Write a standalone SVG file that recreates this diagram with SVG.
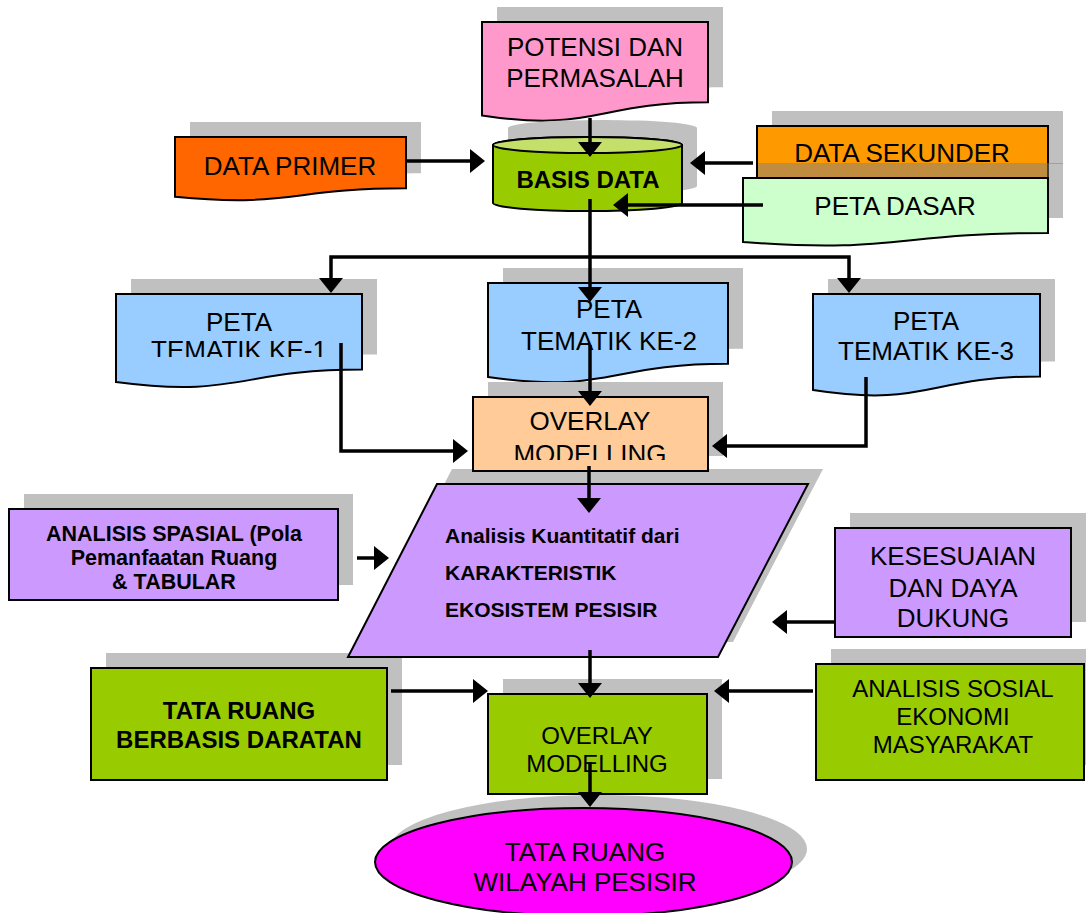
<svg xmlns="http://www.w3.org/2000/svg" width="1086" height="913" viewBox="0 0 1086 913">
<style>
.sh{fill:#C0C0C0}
.nd{stroke:#000;stroke-width:2}
.t{font-family:"Liberation Sans",Arial,Helvetica,sans-serif;font-size:26px;fill:#000;text-anchor:middle}
.b{font-weight:bold}
.c{fill:none;stroke:#000;stroke-width:3.5}
</style>
<defs>
<marker id="ah" viewBox="0 0 15 24" markerWidth="15" markerHeight="24" refX="9" refY="12" orient="auto" markerUnits="userSpaceOnUse">
<path d="M0,0 L15,12 L0,24 Z" fill="#000"/>
</marker>
<clipPath id="clip1"><rect x="100" y="290" width="280" height="67"/></clipPath>
<clipPath id="clip2"><rect x="473" y="397" width="235" height="63"/></clipPath>
</defs>

<g id="potensi">
<path class="sh" transform="translate(15,-15)" d="M482,22 H708 V102.2 C595,102.2 595,132.7 482,115.4 Z"/>
<path class="nd" fill="#FF99CC" d="M482,22 H708 V102.2 C595,102.2 595,132.7 482,115.4 Z"/>
<text class="t" x="595" y="56">POTENSI DAN</text>
<text class="t" x="595" y="87">PERMASALAH</text>
</g>

<g id="data-primer">
<path class="sh" transform="translate(15,-15)" d="M175,137 H406 V188.3 C290.5,188.3 290.5,207.8 175,196.8 Z"/>
<path class="nd" fill="#FF6600" d="M175,137 H406 V188.3 C290.5,188.3 290.5,207.8 175,196.8 Z"/>
<text class="t" x="290" y="175">DATA PRIMER</text>
</g>

<g id="basis-data">
<path class="sh" transform="translate(15,-17)" d="M493,145 V203 A94.5,8 0 0 0 682,203 V145 A94.5,8 0 0 0 493,145 Z"/>
<path class="nd" fill="#99CC00" d="M493,145 V203 A94.5,8 0 0 0 682,203 V145 A94.5,8 0 0 0 493,145 Z"/>
<ellipse class="nd" fill="#C4E06A" cx="587.5" cy="145" rx="94.5" ry="8"/>
<text class="t b" x="588" y="188" style="font-size:24px">BASIS DATA</text>
</g>

<g id="data-sekunder">
<rect class="sh" x="772" y="111" width="291" height="53"/>
<rect class="nd" fill="#FF9900" x="757" y="126" width="291" height="53"/>
<text class="t" x="902" y="162">DATA SEKUNDER</text>
</g>

<g id="peta-dasar">
<path fill="#808080" fill-opacity="0.5" transform="translate(15,-15)" d="M743,178 H1048 V232.9 C895.5,232.9 895.5,253.8 743,242 Z"/>
<path class="nd" fill="#CCFFCC" d="M743,178 H1048 V232.9 C895.5,232.9 895.5,253.8 743,242 Z"/>
<text class="t" x="895" y="215">PETA DASAR</text>
</g>

<g id="peta-tematik-1">
<path class="sh" transform="translate(15,-15)" d="M116,294 H362 V369.5 C239,369.5 239,398.3 116,382 Z"/>
<path class="nd" fill="#99CCFF" d="M116,294 H362 V369.5 C239,369.5 239,398.3 116,382 Z"/>
<text class="t" x="239" y="331">PETA</text>
<text class="t" x="239" y="359" clip-path="url(#clip1)">TEMATIK KE-1</text>
</g>

<g id="peta-tematik-2">
<path class="sh" transform="translate(15,-15)" d="M488,283 H728 V363.7 C608,363.7 608,394.4 488,377 Z"/>
<path class="nd" fill="#99CCFF" d="M488,283 H728 V363.7 C608,363.7 608,394.4 488,377 Z"/>
<text class="t" x="609" y="318">PETA</text>
<text class="t" x="609" y="350">TEMATIK KE-2</text>
</g>

<g id="peta-tematik-3">
<path class="sh" transform="translate(15,-15)" d="M813,294 H1040 V376.4 C926.5,376.4 926.5,407.8 813,390 Z"/>
<path class="nd" fill="#99CCFF" d="M813,294 H1040 V376.4 C926.5,376.4 926.5,407.8 813,390 Z"/>
<text class="t" x="926" y="330">PETA</text>
<text class="t" x="926" y="360">TEMATIK KE-3</text>
</g>

<g id="tata-ruang-daratan">
<rect class="sh" x="106" y="653" width="296" height="112"/>
<rect class="nd" fill="#99CC00" x="91" y="668" width="296" height="112"/>
<text class="t b" x="239" y="719" style="font-size:24px">TATA RUANG</text>
<text class="t b" x="239" y="748" style="font-size:24px">BERBASIS DARATAN</text>
</g>

<g id="analisis-kuantitatif">
<polygon class="sh" points="452,469 823,469 733,642 363,642"/>
<polygon class="nd" fill="#CC99FF" points="437,484 808,484 718,657 348,657"/>
<text class="t b" x="445" y="543" style="font-size:21px;text-anchor:start">Analisis Kuantitatif dari</text>
<text class="t b" x="445" y="580" style="font-size:21px;text-anchor:start">KARAKTERISTIK</text>
<text class="t b" x="445" y="617" style="font-size:21px;text-anchor:start">EKOSISTEM PESISIR</text>
</g>

<g id="overlay-1">
<rect class="sh" x="488" y="382" width="235" height="74"/>
<rect class="nd" fill="#FFCC99" x="473" y="397" width="235" height="74"/>
<text class="t" x="590" y="430">OVERLAY</text>
<text class="t" x="590" y="463" clip-path="url(#clip2)">MODELLING</text>
</g>

<g id="analisis-spasial">
<rect class="sh" x="24" y="494" width="329" height="91"/>
<rect class="nd" fill="#CC99FF" x="9" y="509" width="329" height="91"/>
<text class="t b" x="174" y="541" style="font-size:21.5px">ANALISIS SPASIAL (Pola</text>
<text class="t b" x="174" y="565" style="font-size:21.5px">Pemanfaatan Ruang</text>
<text class="t b" x="174" y="589" style="font-size:21.5px">&amp; TABULAR</text>
</g>

<g id="kesesuaian">
<rect class="sh" x="850" y="513" width="236" height="109"/>
<rect class="nd" fill="#CC99FF" x="835" y="528" width="236" height="109"/>
<text class="t" x="953" y="565">KESESUAIAN</text>
<text class="t" x="953" y="597">DAN DAYA</text>
<text class="t" x="953" y="627">DUKUNG</text>
</g>

<g id="tata-ruang-pesisir">
<ellipse class="sh" cx="598.5" cy="849" rx="208.5" ry="54"/>
<ellipse class="nd" fill="#FF00FF" cx="583.5" cy="862" rx="208.5" ry="54"/>
<text class="t" x="585" y="861">TATA RUANG</text>
<text class="t" x="585" y="891">WILAYAH PESISIR</text>
</g>

<g id="overlay-2">
<rect class="sh" x="503" y="679" width="219" height="100"/>
<rect class="nd" fill="#99CC00" x="488" y="694" width="219" height="100"/>
<text class="t" x="597" y="744" style="font-size:24px">OVERLAY</text>
<text class="t" x="597" y="772" style="font-size:24px">MODELLING</text>
</g>

<g id="analisis-sosial">
<rect class="sh" x="831" y="649" width="260" height="116"/>
<rect class="nd" fill="#99CC00" x="816" y="664" width="268" height="116"/>
<text class="t" x="953" y="697" style="font-size:24px">ANALISIS SOSIAL</text>
<text class="t" x="953" y="725" style="font-size:24px">EKONOMI</text>
<text class="t" x="953" y="753" style="font-size:24px">MASYARAKAT</text>
</g>

<g id="connectors">
<path class="c" marker-end="url(#ah)" d="M590,118 V151"/>
<path class="c" marker-end="url(#ah)" d="M406,161 H479"/>
<path class="c" marker-end="url(#ah)" d="M753,163 H696"/>
<path class="c" marker-end="url(#ah)" d="M763,205 H619"/>
<path class="c" marker-end="url(#ah)" d="M590,199 V296"/>
<path class="c" marker-end="url(#ah)" d="M590,257 H331 V287"/>
<path class="c" marker-end="url(#ah)" d="M590,257 H849 V287"/>
<path class="c" marker-end="url(#ah)" d="M341,343 V451 H462"/>
<path class="c" marker-end="url(#ah)" d="M590,345 V400"/>
<path class="c" marker-end="url(#ah)" d="M866,377 V446 H718"/>
<path class="c" marker-end="url(#ah)" d="M589,466 V507"/>
<path class="c" marker-end="url(#ah)" d="M357,558 H383"/>
<path class="c" marker-end="url(#ah)" d="M835,622 H778"/>
<path class="c" marker-end="url(#ah)" d="M590,650 V692"/>
<path class="c" marker-end="url(#ah)" d="M391,691 H482"/>
<path class="c" marker-end="url(#ah)" d="M813,691 H720"/>
<path class="c" marker-end="url(#ah)" d="M590,762 V801"/>
</g>
</svg>
